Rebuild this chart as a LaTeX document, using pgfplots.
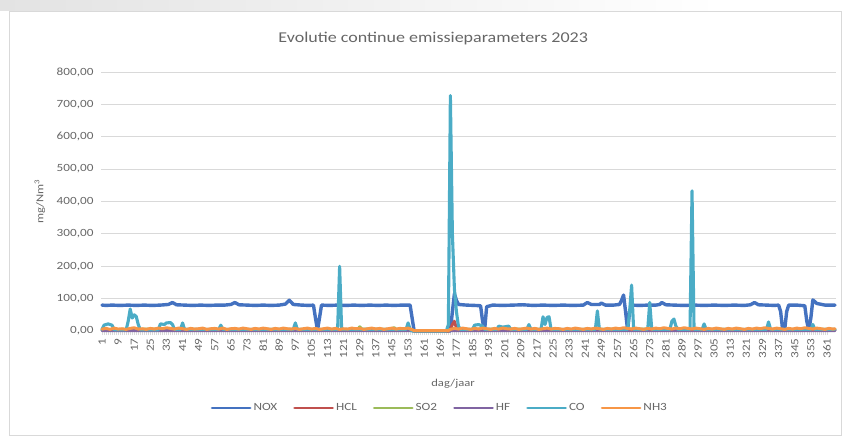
\documentclass[border=0pt]{standalone}
\usepackage{pgfplots}
\pgfplotsset{compat=1.18}
\usepackage{fontspec}
\setmainfont{Carlito}[FakeStretch=1.2]
\definecolor{txt}{HTML}{666666}
\definecolor{gridc}{HTML}{D9D9D9}
\definecolor{cnox}{HTML}{4472C0}
\definecolor{chcl}{HTML}{C0504D}
\definecolor{cso}{HTML}{9BBB59}
\definecolor{chf}{HTML}{8064A2}
\definecolor{cco}{HTML}{4BACC6}
\definecolor{cnh}{HTML}{F79646}
\begin{document}
\begin{tikzpicture}
\useasboundingbox (0pt,0pt) rectangle (843pt,437pt);
\shade[left color=gray!22, right color=white] (0pt,426pt) rectangle (720pt,437pt);
\draw[gray!30, line width=0.6pt] (9pt,2pt) rectangle (841pt,426pt);
\begin{axis}[
  at={(101pt,106pt)}, anchor=south west,
  scale only axis, width=735pt, height=259pt,
  xmin=0.5, xmax=365.5, ymin=0, ymax=800,
  clip=false,
  /pgf/number format/assume math mode=true,
  axis line style={draw=none},
  ymajorgrids, major grid style={gridc, line width=0.8pt},
  ytick={0,100,...,800}, ytick style={draw=none},
  xtick={1,9,...,361}, minor x tick num=7,
  xtick pos=bottom, tick align=outside,
  major tick length=4pt, minor tick length=4pt,
  xtick style={gridc, line width=0.6pt},
  scaled ticks=false,
  yticklabel style={/pgf/number format/.cd, fixed, fixed zerofill, precision=2, use comma, 1000 sep={}},
  ticklabel style={font=\fontsize{11}{13}\selectfont, text=txt},
  xticklabel style={rotate=90, anchor=east, xshift=0pt, yshift=0pt},
  title={Evolutie continue emissieparameters 2023},
  title style={font=\fontsize{15}{18}\selectfont, text=txt, at={(axis description cs:0.452,1.131)}, anchor=center, yshift=-6pt},
  xlabel={dag/jaar},
  xlabel style={font=\fontsize{10.5}{12}\selectfont, text=txt, at={(axis description cs:0.479,-0.205)}, anchor=center},
  ylabel={mg/Nm\textsuperscript{3}},
  ylabel style={font=\fontsize{10.5}{12}\selectfont, text=txt, at={(axis description cs:-0.083,0.5)}, anchor=center},
  legend columns=6,
  legend style={draw=none, fill=none, at={(axis description cs:0.461,-0.297)}, anchor=center,
    font=\fontsize{11}{13}\selectfont, text=txt,
    /tikz/every even column/.append style={column sep=14pt},
    nodes={inner xsep=2pt}},
  legend image code/.code={\draw[#1, line width=2.8pt] (0pt,0pt) -- (38pt,0pt);},
  every axis plot/.append style={line join=round, line cap=round, mark=none},
]
% NOX
\addplot[cnox, line width=3.4pt] coordinates {
(1,80)(3,79)(6,80)(10,79)(14,80)(18,79)(22,80)(26,79)(30,80)(34,82)(36,88)(38,81)(42,80)(46,79)(50,80)(54,79)(58,80)(62,80)(65,82)(67,88)(69,81)(73,80)(77,79)(81,80)(85,79)(89,80)(92,83)(94,95)(96,82)(100,80)(104,79)(106,80)(107,40)(108,2)(109,40)(110,80)(114,79)(118,80)(122,79)(126,80)(130,79)(134,80)(138,79)(142,80)(146,79)(150,80)(154,80)(155,40)(156,0)(160,0)(165,0)(170,0)(174,0)(175,60)(176,115)(177,95)(178,82)(182,80)(186,79)(189,78)(190,30)(191,2)(192,75)(195,80)(200,79)(205,80)(210,81)(215,79)(220,80)(225,79)(230,80)(235,79)(240,80)(242,88)(244,82)(248,82)(249,86)(251,80)(255,80)(258,82)(259,95)(260,111)(261,60)(262,2)(263,60)(264,80)(268,79)(272,80)(276,80)(278,82)(279,88)(281,81)(285,80)(290,79)(295,80)(300,79)(305,80)(310,79)(315,80)(320,79)(323,81)(325,88)(327,81)(331,80)(335,79)(337,80)(338,60)(339,3)(340,3)(341,60)(342,80)(346,80)(350,78)(351,30)(352,2)(353,40)(354,96)(356,85)(360,80)(365,80)
};
\addlegendentry{NOX}
% HCL
\addplot[chcl, line width=3pt] coordinates {
(1,3)(20,4)(40,3)(60,4)(80,3)(100,4)(120,3)(140,4)(155,3)(156,0)(173,0)(174,5)(175,20)(176,30)(177,10)(178,3)(200,4)(250,3)(300,4)(365,3)
};
\addlegendentry{HCL}
% SO2
\addplot[cso, line width=3pt] coordinates {
(1,4)(30,6)(60,4)(90,5)(120,4)(128,6)(129,13)(130,6)(145,5)(146,11)(147,5)(155,4)(156,0)(173,0)(174,5)(200,6)(230,4)(260,6)(300,5)(330,4)(365,5)
};
\addlegendentry{SO2}
% HF
\addplot[chf, line width=3pt] coordinates {
(1,1)(155,1)(156,0)(173,0)(174,1)(365,1)
};
\addlegendentry{HF}
% CO
\addplot[cco, line width=3.1pt] coordinates {
(1,5)(2,18)(4,22)(6,18)(7,4)(13,4)(14,30)(15,68)(16,40)(17,50)(18,45)(19,20)(20,4)(29,4)(30,22)(32,20)(33,25)(35,26)(36,20)(37,5)(40,5)(41,25)(42,5)(59,5)(60,18)(61,5)(96,5)(97,25)(98,5)(118,5)(119,200)(120,5)(152,5)(153,25)(154,5)(155,0)(172,0)(173,20)(174,727)(175,300)(176,130)(177,60)(178,15)(179,5)(185,5)(186,18)(188,20)(190,15)(191,5)(197,5)(198,15)(200,12)(203,15)(204,5)(212,5)(213,20)(214,5)(219,5)(220,44)(221,20)(222,42)(223,44)(224,5)(246,5)(247,62)(248,5)(262,5)(263,60)(264,142)(265,5)(272,5)(273,88)(274,5)(283,5)(284,30)(285,37)(286,15)(287,5)(293,5)(294,433)(295,5)(299,5)(300,22)(301,5)(331,5)(332,28)(333,5)(353,5)(354,20)(355,5)(365,5)
};
\addlegendentry{CO}
% NH3
\addplot[cnh, line width=3pt] coordinates {
(1,6)(3,8)(5,5)(7,9)(9,6)(11,7)(13,5)(15,8)(17,10)(19,6)(21,7)(23,5)(25,8)(27,6)(29,9)(31,7)(33,10)(35,8)(37,6)(39,9)(41,7)(43,5)(45,8)(47,6)(49,7)(51,9)(53,5)(55,7)(57,8)(59,6)(61,9)(63,5)(65,7)(67,8)(69,6)(71,9)(73,7)(75,5)(77,8)(79,6)(81,9)(83,7)(85,5)(87,8)(89,6)(91,9)(93,7)(95,6)(97,8)(99,5)(101,7)(103,9)(105,6)(107,8)(109,5)(111,7)(113,9)(115,6)(117,8)(119,5)(121,7)(123,6)(125,9)(127,7)(129,8)(131,5)(133,7)(135,9)(137,6)(139,8)(141,5)(143,7)(145,9)(147,6)(149,8)(151,7)(153,9)(155,4)(156,1)(160,1)(165,1)(170,1)(173,1)(174,5)(176,8)(178,6)(180,9)(182,7)(184,5)(186,8)(188,6)(190,9)(192,7)(194,5)(196,8)(198,6)(200,9)(202,7)(204,6)(206,8)(208,5)(210,7)(212,9)(214,6)(216,8)(218,5)(220,7)(222,9)(224,6)(226,8)(228,7)(230,5)(232,8)(234,6)(236,9)(238,7)(240,5)(242,8)(244,6)(246,9)(248,7)(250,5)(252,8)(254,6)(256,9)(258,7)(260,10)(262,8)(264,6)(266,9)(268,7)(270,5)(272,8)(274,6)(276,9)(278,7)(280,10)(282,8)(284,6)(286,9)(288,7)(290,10)(292,8)(294,6)(296,9)(298,7)(300,5)(302,8)(304,6)(306,9)(308,7)(310,5)(312,8)(314,6)(316,9)(318,7)(320,5)(322,8)(324,6)(326,9)(328,7)(330,10)(332,8)(334,6)(336,9)(338,7)(340,5)(342,8)(344,6)(346,9)(348,7)(350,10)(352,8)(354,6)(356,9)(358,7)(360,5)(362,8)(364,6)(365,7)
};
\addlegendentry{NH3}
\end{axis}
\end{tikzpicture}
\end{document}
